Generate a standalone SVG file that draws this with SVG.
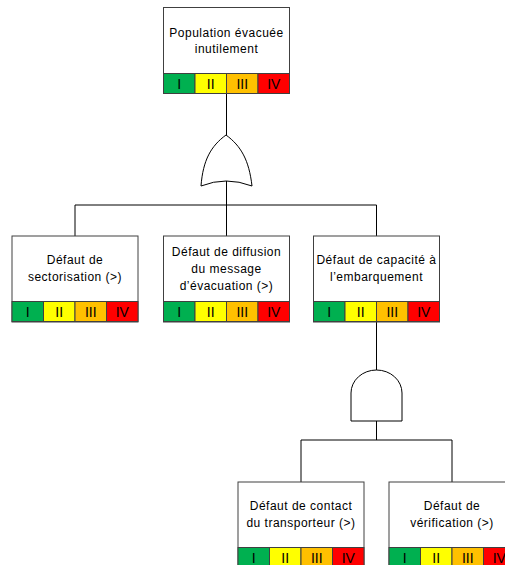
<svg xmlns="http://www.w3.org/2000/svg" width="505" height="565" viewBox="0 0 505 565">
<style>
.box{fill:#fff;stroke:#404040;stroke-width:1}
.seg{stroke:#404040;stroke-width:1}
.g{fill:#00B050}.y{fill:#FFFF00}.o{fill:#FFC000}.r{fill:#FF0000}
.t{font-family:"Liberation Sans","Open Sans",sans-serif;font-size:12px;letter-spacing:0.5px;fill:#000;text-anchor:middle}
.n{font-family:"Liberation Sans","Open Sans",sans-serif;font-size:14px;fill:#000;text-anchor:middle}
.ln{fill:none;stroke:#000;stroke-width:1}
.gate{fill:#fff;stroke:#000;stroke-width:1}
</style>
<defs>
<g id="bar">
<rect class="seg g" x="0" y="0" width="31.5" height="20"/>
<rect class="seg y" x="31.5" y="0" width="31.5" height="20"/>
<rect class="seg o" x="63" y="0" width="31.5" height="20"/>
<rect class="seg r" x="94.5" y="0" width="31.5" height="20"/>
<text class="n" x="15.75" y="15.5">I</text>
<text class="n" x="47.25" y="15.5">II</text>
<text class="n" x="78.75" y="15.5">III</text>
<text class="n" x="110.25" y="15.5">IV</text>
</g>
</defs>
<g id="connectors">
<path class="ln" d="M226.5,93 V135"/>
<path class="ln" d="M226.5,181 V205 M75,205 H376.5 M75,205 V236 M226.5,205 V236 M376.5,205 V236"/>
<path class="ln" d="M376.5,321 V370"/>
<path class="ln" d="M376.5,421 V440 M301,440 H452 M301,440 V482 M452,440 V482"/>
</g>
<g id="or-gate">
<path class="gate" d="M201,186 C203,160 211,146 226,135 C241,146 249,160 252,186 Q226,176 201,186 Z"/>
</g>
<g id="and-gate">
<path class="gate" d="M351,421 V393 A25.5,23 0 0 1 402,393 V421 Z"/>
</g>
<g id="n-top">
<rect class="box" x="163.5" y="7.5" width="126" height="86"/>
<text class="t" x="226.5" y="37">Population évacuée</text>
<text class="t" x="226.5" y="53">inutilement</text>
<use href="#bar" x="163.5" y="73.5"/>
</g>
<g id="n-sector">
<rect class="box" x="12" y="236" width="126" height="86"/>
<text class="t" x="75" y="264">Défaut de</text>
<text class="t" x="75" y="281">sectorisation (&gt;)</text>
<use href="#bar" x="12" y="301.5"/>
</g>
<g id="n-diffusion">
<rect class="box" x="163.5" y="236" width="126" height="86"/>
<text class="t" x="226.5" y="256">Défaut de diffusion</text>
<text class="t" x="226.5" y="273">du message</text>
<text class="t" x="226.5" y="290">d’évacuation (&gt;)</text>
<use href="#bar" x="163.5" y="301.5"/>
</g>
<g id="n-capacite">
<rect class="box" x="313.5" y="236" width="126" height="86"/>
<text class="t" x="376.5" y="264">Défaut de capacité à</text>
<text class="t" x="376.5" y="281">l’embarquement</text>
<use href="#bar" x="313.5" y="301.5"/>
</g>
<g id="n-contact">
<rect class="box" x="238" y="482" width="126" height="86"/>
<text class="t" x="301" y="510">Défaut de contact</text>
<text class="t" x="301" y="527">du transporteur (&gt;)</text>
<use href="#bar" x="238" y="547.5"/>
</g>
<g id="n-verif">
<rect class="box" x="389" y="482" width="126" height="86"/>
<text class="t" x="452" y="510">Défaut de</text>
<text class="t" x="452" y="527">vérification (&gt;)</text>
<use href="#bar" x="389" y="547.5"/>
</g>
</svg>
